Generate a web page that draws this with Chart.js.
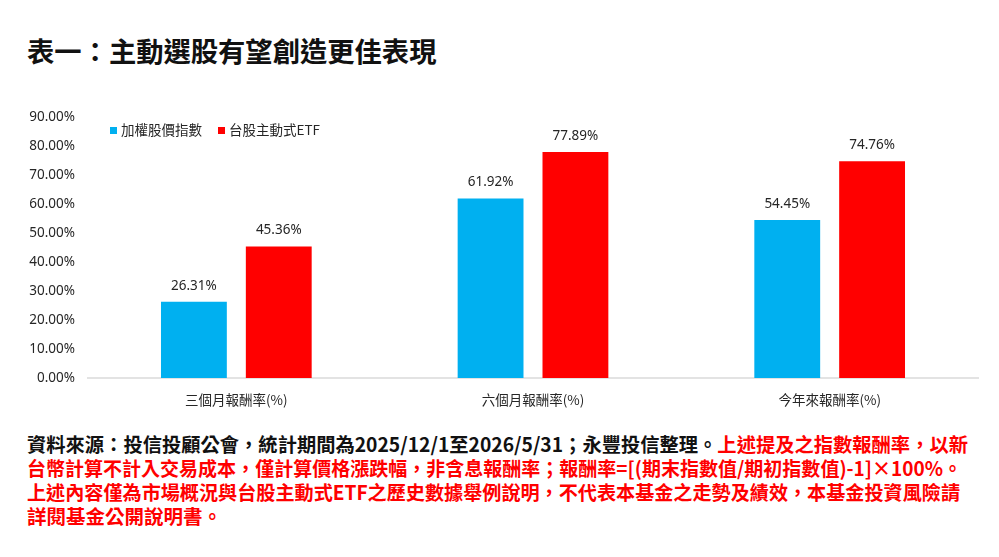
<!DOCTYPE html>
<html>
<head>
<meta charset="utf-8">
<script src="https://cdn.jsdelivr.net/npm/chart.js@4.4.1/dist/chart.umd.min.js"></script>
<style>
  html, body { margin: 0; padding: 0; background: #fff; }
  body { width: 999px; height: 557px; position: relative; overflow: hidden; font-family: "Noto Sans CJK TC", "Noto Sans", sans-serif; }
  #title { position: absolute; left: 27px; top: 32px; font-size: 27.3px; font-weight: bold; color: #111; line-height: 36px; white-space: nowrap; }
  #wrap { position: absolute; left: 0; top: 95px; width: 999px; height: 330px; }
  #legend { position: absolute; left: 110px; top: 119px; font-size: 13.5px; color: #262626; line-height: 20px; white-space: nowrap; }
  #legend span.box { display: inline-block; width: 7px; height: 7px; vertical-align: middle; margin-right: 4px; position: relative; top: -1px; }
  #legend span.item { margin-right: 16px; }
  #foot { position: absolute; left: 27px; top: 432px; font-size: 19.5px; font-weight: bold; line-height: 24px; color: #111; }
  #foot div { white-space: nowrap; transform-origin: 0 50%; }
  .red { color: #f00; }
</style>
</head>
<body>
<div id="title">表一：主動選股有望創造更佳表現</div>
<div id="wrap"><canvas id="c"></canvas></div>
<div id="legend"></div>
<div id="foot">
  <div data-w="941">資料來源：投信投顧公會，統計期間為2025/12/1至2026/5/31；永豐投信整理。<span class="red">上述提及之指數報酬率，以新</span></div>
  <div class="red" data-w="935">台幣計算不計入交易成本，僅計算價格漲跌幅，非含息報酬率；報酬率=[(期末指數值/期初指數值)-1]×100%。</div>
  <div class="red" data-w="933">上述內容僅為市場概況與台股主動式ETF之歷史數據舉例說明，不代表本基金之走勢及績效，本基金投資風險請</div>
  <div class="red">詳閱基金公開說明書。</div>
</div>
<script>
const categories = ["三個月報酬率(%)", "六個月報酬率(%)", "今年來報酬率(%)"];
const seriesNames = ["加權股價指數", "台股主動式ETF"];
const taiexValues = [26.31, 61.92, 54.45];
const activeEtfValues = [45.36, 77.89, 74.76];
const seriesColors = ["#00b0f0", "#ff0000"];
const yTicks = [0, 10, 20, 30, 40, 50, 60, 70, 80, 90];

// HTML legend
const lg = document.getElementById('legend');
seriesNames.forEach((n, i) => {
  const s = document.createElement('span');
  s.className = 'item';
  s.innerHTML = '<span class="box" style="background:' + seriesColors[i] + '"></span>' + n;
  lg.appendChild(s);
});

// fit footer lines
document.querySelectorAll('#foot div[data-w]').forEach(d => {
  const r = document.createRange();
  r.selectNodeContents(d);
  const w = r.getBoundingClientRect().width;
  const t = parseFloat(d.dataset.w);
  if (w > 0) d.style.transform = 'scaleX(' + (t / w) + ')';
});

const valueLabels = {
  id: 'valueLabels',
  afterDatasetsDraw(chart) {
    const ctx = chart.ctx;
    ctx.save();
    ctx.font = '13.5px "Noto Sans", sans-serif';
    ctx.fillStyle = '#262626';
    ctx.textAlign = 'center';
    ctx.textBaseline = 'middle';
    chart.data.datasets.forEach((ds, di) => {
      const meta = chart.getDatasetMeta(di);
      meta.data.forEach((el, i) => {
        ctx.fillText(ds.data[i].toFixed(2) + '%', el.x, el.y - 16);
      });
    });
    ctx.restore();
  }
};

new Chart(document.getElementById('c'), {
  type: 'bar',
  data: {
    labels: categories,
    datasets: [
      { label: seriesNames[0], data: taiexValues, backgroundColor: seriesColors[0] },
      { label: seriesNames[1], data: activeEtfValues, backgroundColor: seriesColors[1] }
    ]
  },
  options: {
    responsive: true,
    maintainAspectRatio: false,
    animation: false,
    layout: { padding: { top: 22, right: 21, bottom: 0, left: 0 } },
    categoryPercentage: 0.572,
    barPercentage: 0.776,
    plugins: { legend: { display: false }, tooltip: { enabled: false } },
    scales: {
      x: {
        grid: { display: false, drawTicks: false },
        border: { display: true, color: '#e3e3e3', width: 2 },
        ticks: { color: '#262626', font: { family: '"Noto Sans CJK TC", sans-serif', size: 13.5 }, padding: 14 },
        afterFit(s) { s.height = 47; }
      },
      y: {
        min: 0, max: 90,
        afterBuildTicks(s) { s.ticks = yTicks.map(v => ({ value: v })); },
        grid: { display: false, drawTicks: false },
        border: { display: false },
        ticks: { color: '#262626', font: { family: '"Noto Sans", sans-serif', size: 13.5 }, padding: 13,
          callback: v => Number(v).toFixed(2) + '%' },
        afterFit(s) { s.width = 88; }
      }
    }
  },
  plugins: [valueLabels]
});
</script>
</body>
</html>
